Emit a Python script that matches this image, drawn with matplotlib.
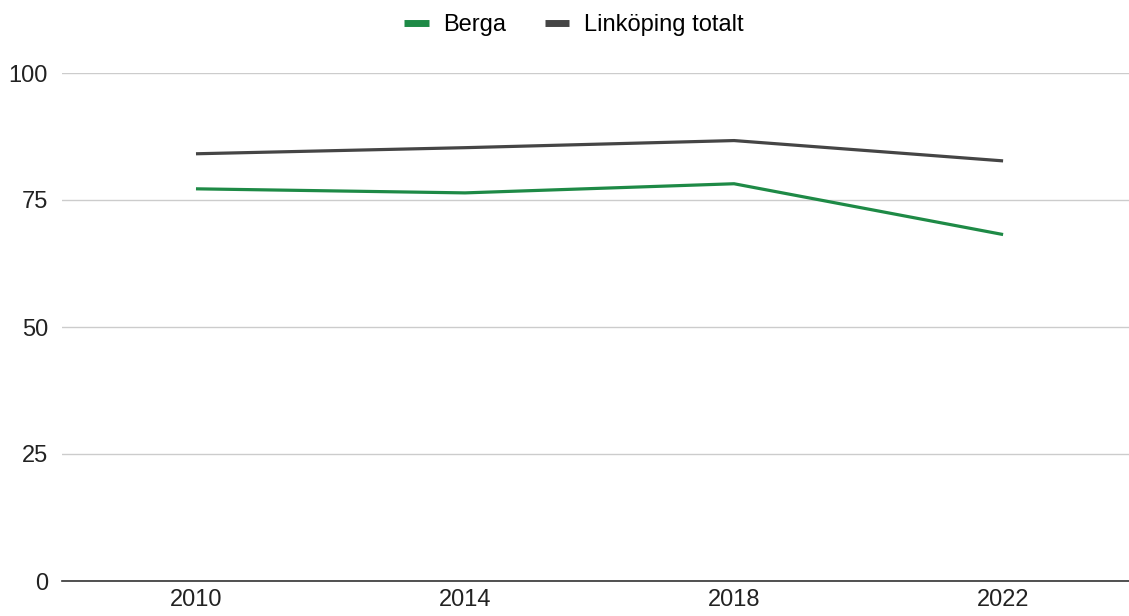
import matplotlib.pyplot as plt

years = ['2010', '2014', '2018', '2022']
berga = [77.2, 76.4, 78.2, 68.2]
linkoping = [84.1, 85.3, 86.7, 82.7]
yticks = [0, 25, 50, 75, 100]

plt.rcParams['font.family'] = ['Liberation Sans', 'DejaVu Sans']

fig = plt.figure(figsize=(11.29, 6.16), dpi=100)
ax = fig.add_axes([62 / 1129, 35 / 616, 1 - 62 / 1129, 508 / 616])

x = range(len(years))
ax.plot(x, berga, color='#1e8a46', lw=2.3, label='Berga', solid_capstyle='butt')
ax.plot(x, linkoping, color='#454545', lw=2.3, label='Linköping totalt', solid_capstyle='butt')

ax.set_ylim(0, 100)
ax.set_xlim(-0.498, 3.468)
ax.set_yticks(yticks)
ax.set_xticks(list(x))
ax.set_xticklabels(years)
ax.grid(axis='y', color='#cccccc', lw=1)
ax.set_axisbelow(True)
for s in ['top', 'right', 'left']:
    ax.spines[s].set_visible(False)
ax.spines['bottom'].set_color('#333333')
ax.spines['bottom'].set_linewidth(1.2)
ax.tick_params(axis='both', length=0, labelsize=17, colors='#222222')
ax.tick_params(axis='y', pad=10)
ax.tick_params(axis='x', pad=6)

leg = fig.legend(loc='upper center', bbox_to_anchor=(0.508, 1.012), ncol=2, frameon=False,
                 fontsize=17, handlelength=1.05, handletextpad=0.6, columnspacing=1.65)
for h in leg.get_lines():
    h.set_linewidth(5)

fig.savefig('out.png', dpi=100)
